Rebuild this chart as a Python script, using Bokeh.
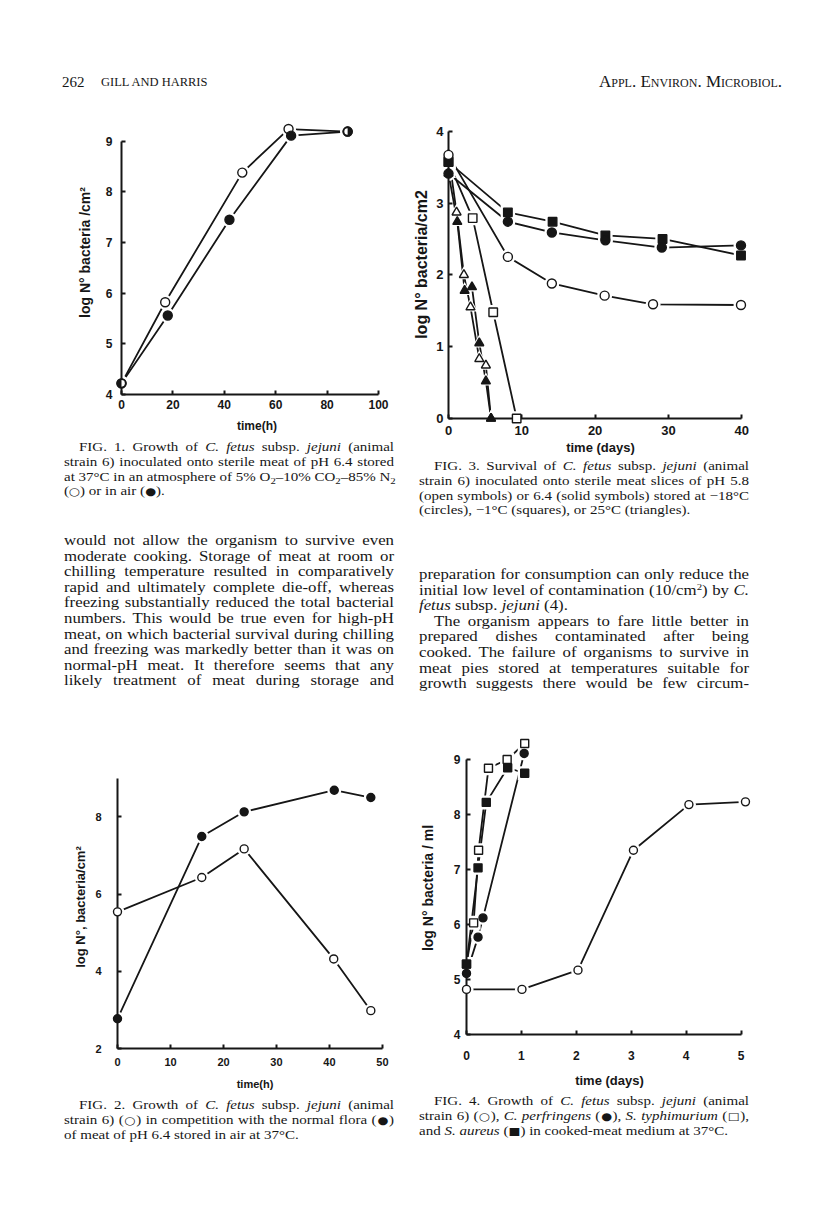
from math import pi
from bokeh.plotting import figure
from bokeh.models import Range1d, FixedTicker, Div, Spacer
from bokeh.layouts import column, row
from bokeh.embed import file_html
from bokeh.resources import INLINE

# ---------------- data read from the page ----------------
# FIG. 1  growth at 37C, gas atmosphere (open) vs air (filled)
f1_t_gas = [0, 17, 47, 65, 88]
f1_v_gas = [4.22, 5.82, 8.38, 9.24, 9.19]
f1_t_air = [0, 18, 42, 66, 88]
f1_v_air = [4.22, 5.56, 7.45, 9.11, 9.19]
f1_xticks = [0, 20, 40, 60, 80, 100]
f1_yticks = [4, 5, 6, 7, 8, 9]

# FIG. 3  survival (open = pH 5.8, solid = pH 6.4)
f3_t_circ_open = [0, 8.1, 14.1, 21.3, 27.9, 39.9]
f3_v_circ_open = [3.67, 2.25, 1.88, 1.71, 1.59, 1.58]
f3_t_circ_fill = [0, 8.1, 14.1, 21.4, 29.1, 39.9]
f3_v_circ_fill = [3.41, 2.74, 2.59, 2.48, 2.38, 2.41]
f3_t_sq_open = [0, 3.3, 6.1, 9.3]
f3_v_sq_open = [3.57, 2.79, 1.48, 0.0]
f3_t_sq_fill = [0, 8.1, 14.2, 21.4, 29.2, 39.9]
f3_v_sq_fill = [3.57, 2.87, 2.74, 2.55, 2.50, 2.27]
f3_t_tri_open = [0, 1.1, 2.1, 3.0, 4.2, 5.1, 5.8]
f3_v_tri_open = [3.67, 2.87, 2.0, 1.55, 0.83, 0.74, 0.0]
f3_t_tri_fill = [0, 1.2, 2.2, 3.2, 4.2, 5.1, 5.8]
f3_v_tri_fill = [3.41, 2.74, 1.78, 1.83, 1.05, 0.52, 0.0]
f3_xticks = [0, 10, 20, 30, 40]
f3_yticks = [0, 1, 2, 3, 4]

# FIG. 2  competition with normal flora
f2_t_flora = [0, 15.9, 23.9, 40.9, 47.8]
f2_v_flora = [2.77, 7.49, 8.13, 8.69, 8.50]
f2_t_cfj = [0, 15.9, 23.9, 40.8, 47.8]
f2_v_cfj = [5.54, 6.43, 7.17, 4.32, 2.98]
f2_xticks = [0, 10, 20, 30, 40, 50]
f2_yticks = [2, 4, 6, 8]

# FIG. 4  growth in cooked-meat medium
f4_t_cfj = [0, 1.01, 2.03, 3.04, 4.05, 5.08]
f4_v_cfj = [4.82, 4.82, 5.17, 7.35, 8.18, 8.23]
f4_t_cperf = [0, 0.21, 0.30, 1.05]
f4_v_cperf = [5.11, 5.77, 6.12, 9.11]
f4_t_styph = [0, 0.13, 0.22, 0.40, 0.74, 1.06]
f4_v_styph = [5.28, 6.03, 7.35, 8.84, 9.00, 9.29]
f4_t_saur = [0, 0.21, 0.36, 0.75, 1.06]
f4_v_saur = [5.28, 7.03, 8.22, 8.85, 8.75]
f4_xticks = [0, 1, 2, 3, 4, 5]
f4_yticks = [4, 5, 6, 7, 8, 9]

# ---------------- styling helpers ----------------
INK = "#161616"
SANS = "Liberation Sans"
SERIF = "'Liberation Serif', 'Times New Roman', serif"


def make_fig(width, height, xr, yr, left, right, top, bottom):
    p = figure(width=width, height=height, x_range=Range1d(*xr), y_range=Range1d(*yr),
               output_backend="svg", toolbar_location=None,
               min_border_left=left, min_border_right=right,
               min_border_top=top, min_border_bottom=bottom, margin=0)
    p.outline_line_color = None
    p.background_fill_alpha = 0
    p.border_fill_alpha = 0
    p.grid.visible = False
    return p


def style_axis(ax, bounds, ticks, label, tick_fs, lab_fs, std, lab_std):
    ax.bounds = bounds
    ax.ticker = FixedTicker(ticks=ticks)
    ax.axis_label = label
    ax.axis_line_width = 2
    ax.axis_line_color = INK
    ax.major_tick_line_width = 2
    ax.major_tick_line_color = INK
    ax.major_tick_in = 4
    ax.major_tick_out = 0
    ax.minor_tick_in = 0
    ax.minor_tick_out = 0
    ax.major_label_text_font = SANS
    ax.major_label_text_font_style = "bold"
    ax.major_label_text_font_size = f"{tick_fs}px"
    ax.major_label_text_color = INK
    ax.major_label_standoff = std
    ax.axis_label_text_font = SANS
    ax.axis_label_text_font_style = "bold"
    ax.axis_label_text_font_size = f"{lab_fs}px"
    ax.axis_label_text_color = INK
    ax.axis_label_standoff = lab_std


def draw_series(p, specs, lw=1.8):
    # specs: (xs, ys, marker, filled, size)
    for xs, ys, m, f, s in specs:
        p.line(xs, ys, line_color=INK, line_width=lw)
    for xs, ys, m, f, s in specs:
        p.scatter(xs, ys, marker=m, size=s + 6, fill_color="white", line_color=None)
    for xs, ys, m, f, s in specs:
        r = p.scatter(xs, ys, marker=m, size=s, fill_color=INK if f else "white",
                      line_color=INK, line_width=1.4)
        r.level = "overlay"


def shared_points(xa, ya, xb, yb):
    other = set(zip(xb, yb))
    pts = [(x, y) for x, y in zip(xa, ya) if (x, y) in other]
    return [q[0] for q in pts], [q[1] for q in pts]


# ---------------- FIG. 1 ----------------
p1 = make_fig(388, 340, (0, 105.45), (4, 9.606), 109, 8, 10, 46)
draw_series(p1, [
    (f1_t_gas, f1_v_gas, "circle", False, 9),
    (f1_t_air, f1_v_air, "circle", True, 9),
])
sx, sy = shared_points(f1_t_gas, f1_v_gas, f1_t_air, f1_v_air)
r = p1.wedge(x=sx[:1], y=sy[:1], radius=3.3, radius_units="screen",
             start_angle=-pi / 2, end_angle=pi / 2, fill_color="white", line_color=None)
r.level = "overlay"
r = p1.wedge(x=sx[1:], y=sy[1:], radius=3.3, radius_units="screen",
             start_angle=pi / 2, end_angle=3 * pi / 2, fill_color="white", line_color=None)
r.level = "overlay"
style_axis(p1.xaxis[0], (0, 100), f1_xticks, "time(h)", 12, 12, 5, 7)
style_axis(p1.yaxis[0], (4, 9), f1_yticks, "log N° bacteria /cm²", 12, 14, 9, 10)

# ---------------- FIG. 3 ----------------
p3 = make_fig(408, 359, (0, 41.47), (0, 4.288), 48, 56, 10, 41)
draw_series(p3, [
    (f3_t_tri_open, f3_v_tri_open, "triangle", False, 9),
    (f3_t_tri_fill, f3_v_tri_fill, "triangle", True, 9),
    (f3_t_sq_open, f3_v_sq_open, "square", False, 8.5),
    (f3_t_sq_fill, f3_v_sq_fill, "square", True, 8.5),
    (f3_t_circ_fill, f3_v_circ_fill, "circle", True, 9),
    (f3_t_circ_open, f3_v_circ_open, "circle", False, 9),
])
style_axis(p3.xaxis[0], (0, 40), f3_xticks, "time (days)", 13, 13, 7, 2)
style_axis(p3.yaxis[0], (0, 4), f3_yticks, "log N° bacteria/cm2", 13, 16, 5, 3)

# ---------------- FIG. 2 ----------------
p2 = make_fig(392, 409, (0, 51.89), (2, 9.33), 109, 8, 76, 50)
draw_series(p2, [
    (f2_t_cfj, f2_v_cfj, "circle", False, 8),
    (f2_t_flora, f2_v_flora, "circle", True, 8),
])
style_axis(p2.xaxis[0], (0, 50), f2_xticks, "time(h)", 11, 11, 9, 9)
style_axis(p2.yaxis[0], (2, 9), f2_yticks, "log N°, bacteria/cm²", 11, 13, 16, 4)

# ---------------- FIG. 4 ----------------
F4_XPX, F4_YPX = 55.3, 55.0
p4 = make_fig(392, 402, (0, 5.208), (4, 9.327), 48, 56, 49, 60)
draw_series(p4, [
    (f4_t_cfj, f4_v_cfj, "circle", False, 8),
    (f4_t_styph, f4_v_styph, "square", False, 8),
    (f4_t_saur, f4_v_saur, "square", True, 8),
    (f4_t_cperf, f4_v_cperf, "circle", True, 8),
])
qx, qy = shared_points(f4_t_styph, f4_v_styph, f4_t_saur, f4_v_saur)
hw, hh = 3.2 / F4_XPX, 3.2 / F4_YPX
r = p4.block(x=[v - hw for v in qx], y=[v - hh for v in qy], width=hw, height=2 * hh,
             fill_color="white", line_color=None)
r.level = "overlay"
style_axis(p4.xaxis[0], (0, 5), f4_xticks, "time (days)", 12, 13, 16, 10)
style_axis(p4.yaxis[0], (4, 9), f4_yticks, "log N° bacteria / ml", 12, 14, 6, 15)


# ---------------- text blocks ----------------
def text_div(lines, width, height, left, text_w, size, lh, sx=1.2):
    inner_w = text_w / sx
    parts = []
    for html, mode, ind in lines:
        align = "text-align:justify;text-align-last:justify;" if mode == "j" else "text-align:left;"
        parts.append(
            f'<div style="white-space:nowrap;{align}padding-left:{ind / sx:.2f}px;width:{inner_w:.2f}px;'
            f'box-sizing:border-box;height:{lh}px;">{html}</div>')
    html = (f'<div style="position:absolute;left:{left}px;top:0;font-family:{SERIF};font-size:{size}px;'
            f'line-height:{lh}px;color:{INK};margin:0;padding:0;transform:scaleX({sx});'
            f'transform-origin:0 0;">' + "".join(parts) + "</div>")
    html = f'<div style="position:relative;width:{width}px;height:{height}px;">{html}</div>'
    return Div(text=html, width=width, height=height, margin=0)


SUB = '<span style="font-size:9px;vertical-align:-3px;line-height:0">2</span>'
SUP = '<span style="font-size:9px;vertical-align:5px;line-height:0">2</span>'


def sym(ch):
    return f'<span style="font-family:\'DejaVu Sans\';font-size:10.5px;">{ch}</span>'


OC, FC, OS, FS = sym("○"), sym("●"), sym("□"), sym("■")
CAP_FS, CAP_LH = 12.5, 14.8
BODY_FS, BODY_LH = 14, 15.6

cap1 = text_div([
    ("FIG. 1. Growth of <i>C. fetus</i> subsp. <i>jejuni</i> (animal", "j", 15),
    ("strain 6) inoculated onto sterile meat of pH 6.4 stored", "j", 0),
    (f"at 37°C in an atmosphere of 5% O{SUB}–10% CO{SUB}–85% N{SUB}", "j", 0),
    (f"({OC}) or in air ({FC}).", "l", 0),
], 392, 93, 56, 330, CAP_FS, CAP_LH)

body1 = text_div([
    ("would not allow the organism to survive even", "j", 0),
    ("moderate cooking. Storage of meat at room or", "j", 0),
    ("chilling temperature resulted in comparatively", "j", 0),
    ("rapid and ultimately complete die-off, whereas", "j", 0),
    ("freezing substantially reduced the total bacterial", "j", 0),
    ("numbers. This would be true even for high-pH", "j", 0),
    ("meat, on which bacterial survival during chilling", "j", 0),
    ("and freezing was markedly better than it was on", "j", 0),
    ("normal-pH meat. It therefore seems that any", "j", 0),
    ("likely treatment of meat during storage and", "j", 0),
], 392, 156, 56, 330, BODY_FS, BODY_LH)

cap2 = text_div([
    ("FIG. 2. Growth of <i>C. fetus</i> subsp. <i>jejuni</i> (animal", "j", 15),
    (f"strain 6) ({OC}) in competition with the normal flora ({FC})", "j", 0),
    ("of meat of pH 6.4 stored in air at 37°C.", "l", 0),
], 392, 100, 56, 330, CAP_FS, CAP_LH)

cap3 = text_div([
    ("FIG. 3. Survival of <i>C. fetus</i> subsp. <i>jejuni</i> (animal", "j", 15),
    ("strain 6) inoculated onto sterile meat slices of pH 5.8", "j", 0),
    ("(open symbols) or 6.4 (solid symbols) stored at −18°C", "j", 0),
    ("(circles), −1°C (squares), or 25°C (triangles).", "l", 0),
], 408, 108, 19, 330, CAP_FS, CAP_LH)

body3 = text_div([
    ("preparation for consumption can only reduce the", "j", 0),
    (f"initial low level of contamination (10/cm{SUP}) by <i>C.</i>", "j", 0),
    ("<i>fetus</i> subsp. <i>jejuni</i> (4).", "l", 0),
    ("The organism appears to fare little better in", "j", 15),
    ("prepared dishes contaminated after being", "j", 0),
    ("cooked. The failure of organisms to survive in", "j", 0),
    ("meat pies stored at temperatures suitable for", "j", 0),
    ("growth suggests there would be few circum-", "j", 0),
], 408, 125, 19, 330, BODY_FS, BODY_LH)

cap4 = text_div([
    ("FIG. 4. Growth of <i>C. fetus</i> subsp. <i>jejuni</i> (animal", "j", 15),
    (f"strain 6) ({OC}), <i>C. perfringens</i> ({FC}), <i>S. typhimurium</i> ({OS}),", "j", 0),
    (f"and <i>S. aureus</i> ({FS}) in cooked-meat medium at 37°C.", "l", 0),
], 408, 100, 19, 330, CAP_FS, CAP_LH)

header = Div(text=(
    f'<div style="position:relative;width:800px;height:92px;font-family:{SERIF};color:{INK};">'
    '<span style="position:absolute;left:54px;top:66px;font-size:15px;line-height:16px;">262</span>'
    '<span style="position:absolute;left:93px;top:66px;font-size:12.5px;line-height:16px;">GILL AND HARRIS</span>'
    '<span style="position:absolute;right:26px;top:66px;font-size:17px;line-height:16px;font-variant:small-caps;">'
    'Appl. Environ. Microbiol.</span></div>'), width=800, height=92, margin=0)

# each plot sits in its own row so that the column does not align their frames
fig1_box = row(Spacer(width=4, height=340, margin=0), p1, spacing=0, margin=0)
fig2_box = row(p2, spacing=0, margin=0)
fig3_box = row(p3, spacing=0, margin=0)
fig4_box = row(Spacer(width=16, height=402, margin=0), p4, spacing=0, margin=0)

left_col = column(fig1_box, cap1, body1, fig2_box, cap2, spacing=0, margin=0)
right_col = column(fig3_box, cap3, body3, fig4_box, cap4, spacing=0, margin=0)
page = column(header, row(left_col, right_col, spacing=0, margin=0),
              spacing=0, margin=(8, 0, 0, 8))

open("out.html", "w").write(file_html(page, INLINE, title="Gill and Harris p. 262"))
